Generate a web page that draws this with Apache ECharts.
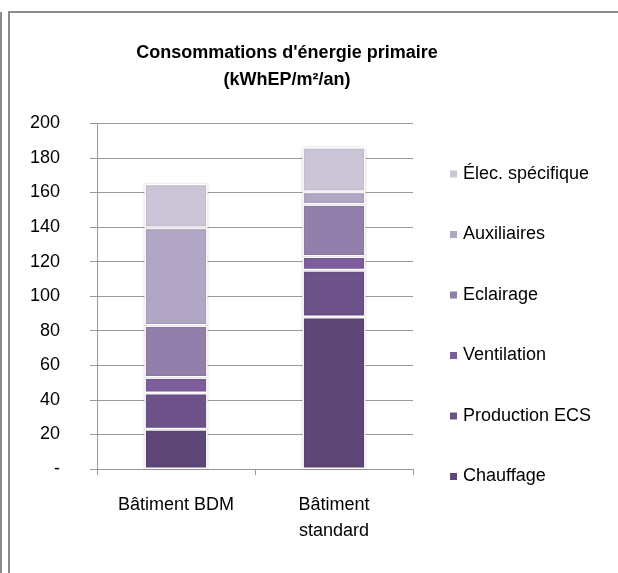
<!DOCTYPE html>
<html>
<head>
<meta charset="utf-8">
<script src="https://cdn.jsdelivr.net/npm/echarts@6/dist/echarts.min.js"></script>
<style>html,body{margin:0;padding:0;background:#fff;}#c{width:618px;height:573px;}</style>
</head>
<body>
<div id="c"></div>
<script>
const categories = ['Bâtiment BDM', 'Bâtiment\nstandard'];
const seriesNames = ['Chauffage', 'Production ECS', 'Ventilation', 'Eclairage', 'Auxiliaires', 'Élec. spécifique'];
const chauffage = [23, 88];
const productionECS = [21, 27];
const ventilation = [9, 8];
const eclairage = [30, 30];
const auxiliaires = [56.5, 7.4];
const elecSpecifique = [25.5, 25.8];
const yTicks = [0, 20, 40, 60, 80, 100, 120, 140, 160, 180, 200];

const values = [chauffage, productionECS, ventilation, eclairage, auxiliaires, elecSpecifique];
const colors = ['#5e4776', '#6c5289', '#7d5d9b', '#937fab', '#b1a6c4', '#ccc5d7'];
const FONT = 'Liberation Sans';

const chart = echarts.init(document.getElementById('c'), null, {renderer: 'canvas'});
chart.setOption({
  backgroundColor: '#fff',
  animation: false,
  title: {
    text: "Consommations d'énergie primaire\n(kWhEP/m²/an)",
    left: 282, top: 35, textAlign: 'center',
    textStyle: {fontFamily: FONT, fontSize: 18, fontWeight: 'bold', color: '#000', lineHeight: 27}
  },
  legend: {
    orient: 'vertical', left: 443, top: 159,
    icon: 'rect', itemWidth: 9, itemHeight: 9, itemGap: 40.5,
    data: seriesNames.slice().reverse(),
    textStyle: {fontFamily: FONT, fontSize: 18, color: '#000', lineHeight: 20}
  },
  grid: {left: 97, right: 205, top: 123.3, bottom: 104},
  xAxis: {
    type: 'category', data: categories,
    axisLine: {lineStyle: {color: '#999', width: 1}},
    axisTick: {show: true, length: 6, lineStyle: {color: '#999'}},
    axisLabel: {fontFamily: FONT, fontSize: 18, color: '#000', margin: 23, lineHeight: 26}
  },
  yAxis: {
    type: 'value', min: yTicks[0], max: yTicks[yTicks.length - 1], interval: 20,
    axisLine: {show: true, lineStyle: {color: '#999'}},
    axisTick: {show: true, length: 7, lineStyle: {color: '#999'}},
    splitLine: {lineStyle: {color: '#999', width: 1}},
    axisLabel: {fontFamily: FONT, fontSize: 18, color: '#000', margin: 37,
      formatter: v => v === 0 ? '-' : String(v)}
  },
  series: seriesNames.map((n, i) => ({
    name: n, type: 'bar', stack: 'total', barWidth: '40%',
    data: values[i],
    itemStyle: {color: colors[i], borderColor: '#fff', borderWidth: 1.5,
      shadowColor: 'rgba(0,0,0,0.2)', shadowBlur: 2}
  })),
  graphic: [
    {type: 'rect', silent: true, shape: {x: 9, y: 12, width: 800, height: 800},
      style: {fill: 'none', stroke: '#8c8c8c', lineWidth: 2}},
    {type: 'line', silent: true, shape: {x1: 1, y1: 12, x2: 1, y2: 573},
      style: {stroke: '#8c8c8c', lineWidth: 2}}
  ]
});
</script>
</body>
</html>
